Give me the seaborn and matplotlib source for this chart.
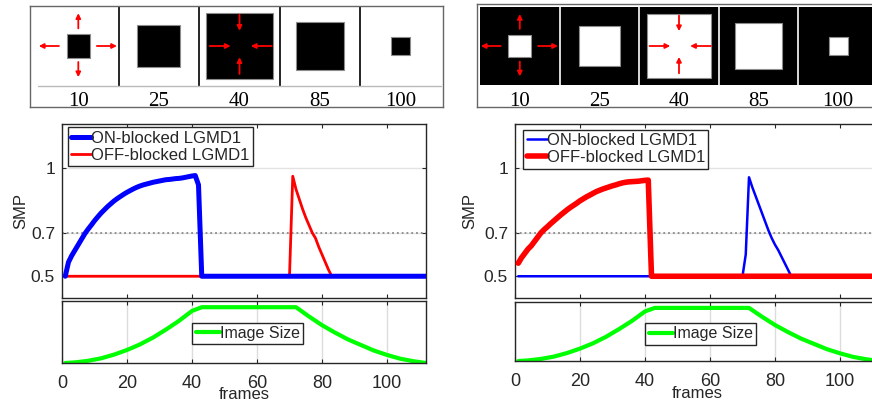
import seaborn as sns
import matplotlib.pyplot as plt
from matplotlib.patches import Rectangle

# top strips: frame numbers and square size (fraction of the frame)
strip_labels = ['10', '25', '40', '85', '100']
square_left = [0.29, 0.535, 0.835, 0.595, 0.235]
square_right = [0.29, 0.525, 0.81, 0.59, 0.235]

# left panel (dark square expanding then shrinking)
on_left_frames = list(range(1, 44)) + [112]
on_left = [0.50, 0.565, 0.595, 0.62, 0.645, 0.67, 0.695, 0.716, 0.735, 0.755,
           0.773, 0.79, 0.805, 0.82, 0.833, 0.846, 0.857, 0.867, 0.877, 0.886,
           0.894, 0.902, 0.909, 0.915, 0.92, 0.924, 0.928, 0.932, 0.935, 0.938,
           0.941, 0.944, 0.945, 0.947, 0.949, 0.95, 0.952, 0.955, 0.958, 0.961,
           0.963, 0.92, 0.50, 0.50]
off_left_frames = [1, 70] + list(range(71, 84)) + [112]
off_left = [0.50, 0.50, 0.96, 0.90, 0.855, 0.81, 0.77, 0.735, 0.70, 0.675,
            0.635, 0.60, 0.565, 0.53, 0.50, 0.50]

# right panel (bright square)
on_right_frames = [1, 70] + list(range(71, 86)) + [112]
on_right = [0.50, 0.50, 0.60, 0.955, 0.91, 0.87, 0.83, 0.79, 0.75, 0.71, 0.675,
            0.645, 0.62, 0.59, 0.56, 0.53, 0.50, 0.50]
off_right_frames = list(range(1, 43)) + [112]
off_right = [0.56, 0.585, 0.605, 0.625, 0.64, 0.66, 0.68, 0.70, 0.715, 0.728,
             0.742, 0.755, 0.768, 0.781, 0.793, 0.805, 0.816, 0.826, 0.836, 0.847,
             0.856, 0.865, 0.873, 0.881, 0.889, 0.895, 0.901, 0.906, 0.911, 0.916,
             0.92, 0.925, 0.929, 0.932, 0.934, 0.935, 0.936, 0.937, 0.939, 0.941,
             0.942, 0.50, 0.50]

# image size curve (same stimulus for both)
size_frames = [1, 4, 8, 12, 16, 20, 24, 28, 32, 36, 40, 43, 72, 76, 80, 84, 88,
               92, 96, 100, 104, 108, 112]
size_vals = [0.0, 0.01, 0.035, 0.075, 0.135, 0.21, 0.30, 0.41, 0.54, 0.68, 0.84,
             0.90, 0.90, 0.75, 0.61, 0.49, 0.38, 0.29, 0.20, 0.13, 0.07, 0.03, 0.0]

# red arrows: (tail dx, tail dy, head dx, head dy) from frame centre
arrows_out = [(-0.24, 0, -0.49, 0), (0.23, 0, 0.48, 0), (0, 0.22, 0, 0.41), (0, -0.2, 0, -0.39)]
arrows_in = [(-0.37, 0, -0.11, 0), (0.4, 0, 0.14, 0), (0, 0.39, 0, 0.19), (0, -0.35, 0, -0.14)]

sns.set_style('white')
plt.rcParams['font.family'] = ['Liberation Sans', 'DejaVu Sans']

W, H = 872, 400
DARK = '#262626'
fig = plt.figure(figsize=(W / 100, H / 100), dpi=100)


def px_axes(x0, y0, x1, y1):
    # axes box given in pixels from the top-left corner
    return fig.add_axes([x0 / W, 1 - y1 / H, (x1 - x0) / W, (y1 - y0) / H])


def draw_strip(ax, sizes, bg, fg, sep, rule, xlim, ylim, label_y):
    for i, (lab, s) in enumerate(zip(strip_labels, sizes)):
        ax.add_patch(Rectangle((i, 0), 1, 1, facecolor=bg, edgecolor='none'))
        ax.add_patch(Rectangle((i + 0.5 - s / 2, 0.5 - s / 2), s, s,
                               facecolor=fg, edgecolor='#8c8c8c', lw=0.8))
        ax.text(i + 0.5, label_y, lab, ha='center', va='baseline', fontsize=15,
                family='Liberation Serif', color='black')
    for i in range(1, 5):
        ax.plot([i, i], [0, 1], color=sep, lw=1.2)
    if rule:
        ax.plot([0, 5], [0, 0], color='#bbbbbb', lw=1)
    for idx, arr in ((0, arrows_out), (2, arrows_in)):
        for tx, ty, hx, hy in arr:
            ax.annotate('', xy=(idx + 0.5 + hx, 0.5 + hy), xytext=(idx + 0.5 + tx, 0.5 + ty),
                        arrowprops=dict(arrowstyle='-|>', color='red', lw=1.3,
                                        mutation_scale=7, shrinkA=0, shrinkB=0))
    ax.set_xlim(*xlim)
    ax.set_ylim(*ylim)
    ax.set_xticks([])
    ax.set_yticks([])
    for sp in ax.spines.values():
        sp.set_color('#666666')
        sp.set_linewidth(1)


def style_mid(ax, ylab_x, legend_anchor):
    ax.set_xlim(0, 112)
    ax.set_ylim(0.4, 1.2)
    ax.set_yticks([0.5, 0.7, 1])
    ax.set_yticklabels(['0.5', '0.7', '1'])
    ax.set_xticks(range(0, 101, 20))
    ax.set_xticklabels([])
    ax.grid(axis='y', color='#e3e3e3', lw=1)
    ax.axhline(0.7, color='#8a8a8a', ls=':', lw=1.3, zorder=1.5)
    ax.tick_params(direction='in', length=3, width=0.8, color=DARK,
                   labelsize=12.5, labelcolor=DARK, pad=5,
                   top=True, right=True, bottom=True, left=True)
    ax.set_ylabel('SMP', fontsize=12, color=DARK)
    ax.yaxis.set_label_coords(ylab_x, 0.5)
    ax.set_xlabel('')
    for sp in ax.spines.values():
        sp.set_color(DARK)
        sp.set_linewidth(1)
    # ON first, OFF second
    h, l = ax.get_legend_handles_labels()
    order = sorted(range(len(l)), key=lambda k: not l[k].startswith('ON'))
    leg = ax.legend([h[k] for k in order], [l[k] for k in order],
                    loc='upper left', bbox_to_anchor=legend_anchor,
                    borderaxespad=0, fontsize=12, handlelength=1.2, handletextpad=0.0,
                    labelspacing=0.12, borderpad=0.2, fancybox=False, framealpha=1,
                    edgecolor=DARK)
    leg.get_frame().set_linewidth(1)


def style_bottom(ax, xlab_y, legend_anchor):
    ax.set_xlim(0, 112)
    ax.set_ylim(0, 1)
    ax.set_yticks([])
    ax.set_xticks(range(0, 101, 20))
    ax.grid(axis='x', color='#dcdcdc', lw=1)
    ax.tick_params(axis='x', direction='in', length=3, width=0.8, color=DARK,
                   labelsize=13, labelcolor=DARK, pad=9, top=True, bottom=True)
    ax.set_ylabel('')
    ax.set_xlabel('frames', fontsize=12, color=DARK, va='top')
    ax.xaxis.set_label_coords(0.5, xlab_y)
    for sp in ax.spines.values():
        sp.set_color(DARK)
        sp.set_linewidth(1)
    leg = ax.legend(loc='center', bbox_to_anchor=legend_anchor, fontsize=11.5,
                    handlelength=1.5, handletextpad=0.0, borderpad=0.2,
                    fancybox=False, framealpha=1, edgecolor=DARK)
    leg.get_frame().set_linewidth(1)


# ---------------- left panel ----------------
ax_s1 = px_axes(30, 6, 443, 107)
draw_strip(ax_s1, square_left, 'white', 'black', 'black', True,
           (-8 / 80.6, 405 / 80.6), (-21 / 80, 1.0), -0.25)

ax_m1 = px_axes(62, 124, 426, 298)
sns.lineplot(x=off_left_frames, y=off_left, ax=ax_m1, color='#ff0000', lw=2.0,
             label='OFF-blocked LGMD1', zorder=3)
sns.lineplot(x=on_left_frames, y=on_left, ax=ax_m1, color='#0000ff', lw=3.6,
             label='ON-blocked LGMD1', zorder=4)
style_mid(ax_m1, -0.093, (0.0157, 0.981))

ax_b1 = px_axes(62, 301, 426, 363)
sns.lineplot(x=size_frames, y=size_vals, ax=ax_b1, color='#00ff00', lw=3,
             label='Image Size')
style_bottom(ax_b1, -0.38, (0.51, 0.48))

# ---------------- right panel ----------------
ax_s2 = px_axes(477, 4, 890, 107)
draw_strip(ax_s2, square_right, 'black', 'white', 'white', False,
           (-3 / 79.6, 410 / 79.6), (-22 / 78, 1 + 3 / 78), -0.27)

ax_m2 = px_axes(515, 124, 879, 298)
sns.lineplot(x=on_right_frames, y=on_right, ax=ax_m2, color='#0000ff', lw=1.8,
             label='ON-blocked LGMD1', zorder=3)
sns.lineplot(x=off_right_frames, y=off_right, ax=ax_m2, color='#ff0000', lw=4.0,
             label='OFF-blocked LGMD1', zorder=4)
style_mid(ax_m2, -0.104, (0.0228, 0.966))

ax_b2 = px_axes(515, 302, 879, 361)
sns.lineplot(x=size_frames, y=size_vals, ax=ax_b2, color='#00ff00', lw=3,
             label='Image Size')
style_bottom(ax_b2, -0.42, (0.51, 0.46))

fig.savefig('out.png', dpi=100)
